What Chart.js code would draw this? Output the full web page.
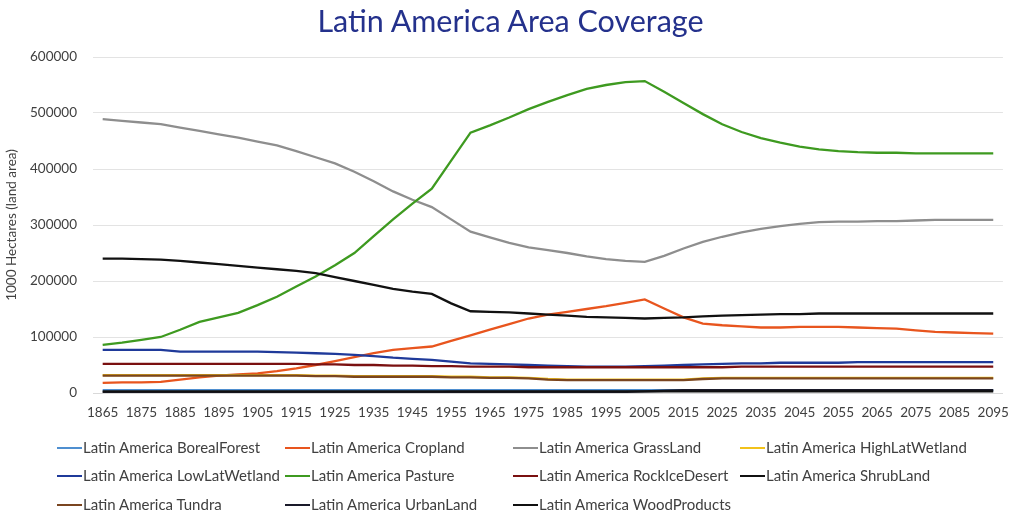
<!DOCTYPE html>
<html>
<head>
<meta charset="utf-8">
<script src="https://cdn.jsdelivr.net/npm/chart.js@4.4.0/dist/chart.umd.min.js"></script>
<style>
  html, body { margin: 0; padding: 0; background: #ffffff; }
  #wrap { position: relative; width: 1021px; height: 518px; overflow: hidden; background: #fff; }
  #title { position: absolute; left: 0; top: 0px; width: 1021px; text-align: center; line-height: 40px;
           font-family: Lato, "Open Sans", sans-serif; font-size: 30.5px; color: #24318C; }
  canvas { position: absolute; left: 0; top: 0; }
  .lg { position: absolute; font-family: Lato, "Open Sans", sans-serif; font-size: 15px; color: #404040;
        white-space: nowrap; line-height: 16px; }
  .lg i { display: inline-block; width: 25px; height: 2px; vertical-align: middle; margin-right: 1px; position: relative; top: -1px; }
</style>
</head>
<body>
<div id="wrap">
  <canvas id="c" width="1021" height="518"></canvas>
  <div id="title">Latin America Area Coverage</div>
  <div id="legend"></div>
</div>
<script>
// ---- data (values in 1000 hectares) ----
const years = [1865,1870,1875,1880,1885,1890,1895,1900,1905,1910,1915,1920,1925,1930,1935,1940,1945,1950,1955,1960,1965,1970,1975,1980,1985,1990,1995,2000,2005,2010,2015,2020,2025,2030,2035,2040,2045,2050,2055,2060,2065,2070,2075,2080,2085,2090,2095];

const borealForest = [5000,5000,5000,5000,5000,5000,5000,5000,5000,5000,5000,5000,5000,5000,5000,5000,5000,5000,5000,5000,5000,5000,5000,5000,5000,5000,5000,5000,5000,5000,5000,5000,5000,5000,5000,5000,5000,5000,5000,5000,5000,5000,5000,5000,5000,5000,5000];
const cropland = [18000,19000,19000,20000,24000,28000,31000,33000,35000,39000,44000,50000,57000,64000,71000,77000,80000,83000,93000,103000,113000,123000,133000,140000,145000,150000,155000,161000,167000,151000,135000,124000,121000,119000,117000,117000,118000,118000,118000,117000,116000,115000,112000,109000,108000,107000,106000];
const grassLand = [489000,486000,483000,480000,474000,468000,462000,456000,449000,442000,432000,421000,410000,395000,378000,360000,345000,332000,310000,288000,278000,268000,260000,255000,250000,244000,239000,236000,234000,245000,258000,270000,279000,287000,293000,298000,302000,305000,306000,306000,307000,307000,308000,309000,309000,309000,309000];
const highLatWetland = [32000,32000,32000,32000,32000,32000,32000,32000,32000,32000,32000,31000,31000,30000,30000,30000,30000,30000,29000,29000,28000,28000,27000,25000,24000,24000,24000,24000,24000,24000,24000,26000,27000,27000,27000,27000,27000,27000,27000,27000,27000,27000,27000,27000,27000,27000,27000];
const lowLatWetland = [77000,77000,77000,77000,74000,74000,74000,74000,74000,73000,72000,71000,70000,68000,66000,63000,61000,59000,56000,53000,52000,51000,50000,49000,48000,47000,47000,47000,48000,49000,50000,51000,52000,53000,53000,54000,54000,54000,54000,55000,55000,55000,55000,55000,55000,55000,55000];
const pasture = [86000,90000,95000,100000,113000,127000,135000,143000,157000,172000,190000,208000,228000,250000,280000,310000,338000,365000,415000,465000,478000,492000,507000,520000,532000,543000,550000,555000,557000,538000,518000,498000,480000,466000,455000,447000,440000,435000,432000,430000,429000,429000,428000,428000,428000,428000,428000];
const rockIceDesert = [52000,52000,52000,52000,52000,52000,52000,52000,52000,52000,52000,51000,51000,50000,50000,49000,49000,48000,48000,47000,47000,47000,46000,46000,46000,46000,46000,46000,46000,46000,46000,46000,46000,47000,47000,47000,47000,47000,47000,47000,47000,47000,47000,47000,47000,47000,47000];
const shrubLand = [240000,240000,239000,238000,236000,233000,230000,227000,224000,221000,218000,214000,207000,200000,193000,186000,181000,177000,160000,146000,145000,144000,142000,140000,138000,136000,135000,134000,133000,134000,135000,137000,138000,139000,140000,141000,141000,142000,142000,142000,142000,142000,142000,142000,142000,142000,142000];
const tundra = [31000,31000,31000,31000,31000,31000,31000,31000,31000,31000,31000,30000,30000,29000,29000,29000,29000,29000,28000,28000,27000,27000,26000,24000,23000,23000,23000,23000,23000,23000,23000,25000,26000,26000,26000,26000,26000,26000,26000,26000,26000,26000,26000,26000,26000,26000,26000];
const urbanLand = [1000,1000,1000,1000,1000,1000,1000,1000,1000,1000,1000,1000,1000,1000,1000,1000,1000,1000,2000,2000,2000,2000,2000,2000,2000,2000,2000,2000,3000,4000,5000,5000,5000,5000,5000,5000,5000,5000,5000,5000,5000,5000,5000,5000,5000,5000,5000];
const woodProducts = [3000,3000,3000,3000,3000,3000,3000,3000,3000,3000,3000,3000,3000,3000,3000,3000,3000,3000,3000,3000,3000,3000,3000,3000,3000,3000,3000,3000,3000,3000,3000,3000,3000,3000,3000,3000,3000,3000,3000,3000,3000,3000,3000,3000,3000,3000,3000];

const seriesNames = ["Latin America BorealForest","Latin America Cropland","Latin America GrassLand","Latin America HighLatWetland","Latin America LowLatWetland","Latin America Pasture","Latin America RockIceDesert","Latin America ShrubLand","Latin America Tundra","Latin America UrbanLand","Latin America WoodProducts"];
const seriesValues = [borealForest, cropland, grassLand, highLatWetland, lowLatWetland, pasture, rockIceDesert, shrubLand, tundra, urbanLand, woodProducts];
const seriesColors = ["#4F8FD0","#E8551E","#8E8E8E","#F2C21B","#1F3A9A","#3E9A20","#7A1010","#111111","#7A4520","#1A1A2A","#101010"];
const yTicks = [0,100000,200000,300000,400000,500000,600000];

const datasets = seriesNames.map((n, i) => ({
  label: n,
  data: seriesValues[i],
  borderColor: seriesColors[i],
  backgroundColor: seriesColors[i],
  borderWidth: 2.3,
  pointRadius: 0,
  tension: 0,
  fill: false,
  order: seriesNames.length - i
}));

new Chart(document.getElementById('c'), {
  type: 'line',
  data: { labels: years.map(String), datasets },
  options: {
    responsive: false,
    animation: false,
    events: [],
    layout: { padding: { top: 57, right: 9, bottom: 90, left: 0 } },
    plugins: { legend: { display: false }, tooltip: { enabled: false }, title: { display: false } },
    scales: {
      x: {
        type: 'category',
        offset: true,
        grid: { display: false, drawTicks: false },
        border: { display: true, color: '#D9D9D9', width: 1 },
        ticks: {
          autoSkip: false, maxRotation: 0, minRotation: 0, padding: 12,
          color: '#404040', font: { family: 'Lato, "Open Sans", sans-serif', size: 13.5 },
          callback: function(v, i) { return i % 2 === 0 ? this.getLabelForValue(v) : ''; }
        },
        afterFit: s => { s.height = 35; }
      },
      y: {
        min: 0, max: 600000,
        afterBuildTicks: s => { s.ticks = yTicks.map(v => ({ value: v })); },
        grid: { color: '#E3E3E3', lineWidth: 1, drawTicks: false },
        border: { display: false },
        ticks: { padding: 16, color: '#404040', font: { family: 'Lato, "Open Sans", sans-serif', size: 13.5 },
                 callback: v => String(v) },
        title: { display: true, text: '1000 Hectares (land area)', color: '#404040',
                 font: { family: 'Lato, "Open Sans", sans-serif', size: 13.5 }, padding: { top: 4, bottom: 0 } },
        afterFit: s => { s.width = 93; }
      }
    }
  }
});

// HTML legend laid out in a 4-column grid
const legendCols = [57, 285, 513, 740];
const legendRows = [447, 475, 504];
const lg = document.getElementById('legend');
seriesNames.forEach((n, i) => {
  const d = document.createElement('div');
  d.className = 'lg';
  d.style.left = legendCols[i % 4] + 'px';
  d.style.top = (legendRows[Math.floor(i / 4)] - 8) + 'px';
  d.innerHTML = '<i style="background:' + seriesColors[i] + '"></i>' + n;
  lg.appendChild(d);
});
</script>
</body>
</html>
